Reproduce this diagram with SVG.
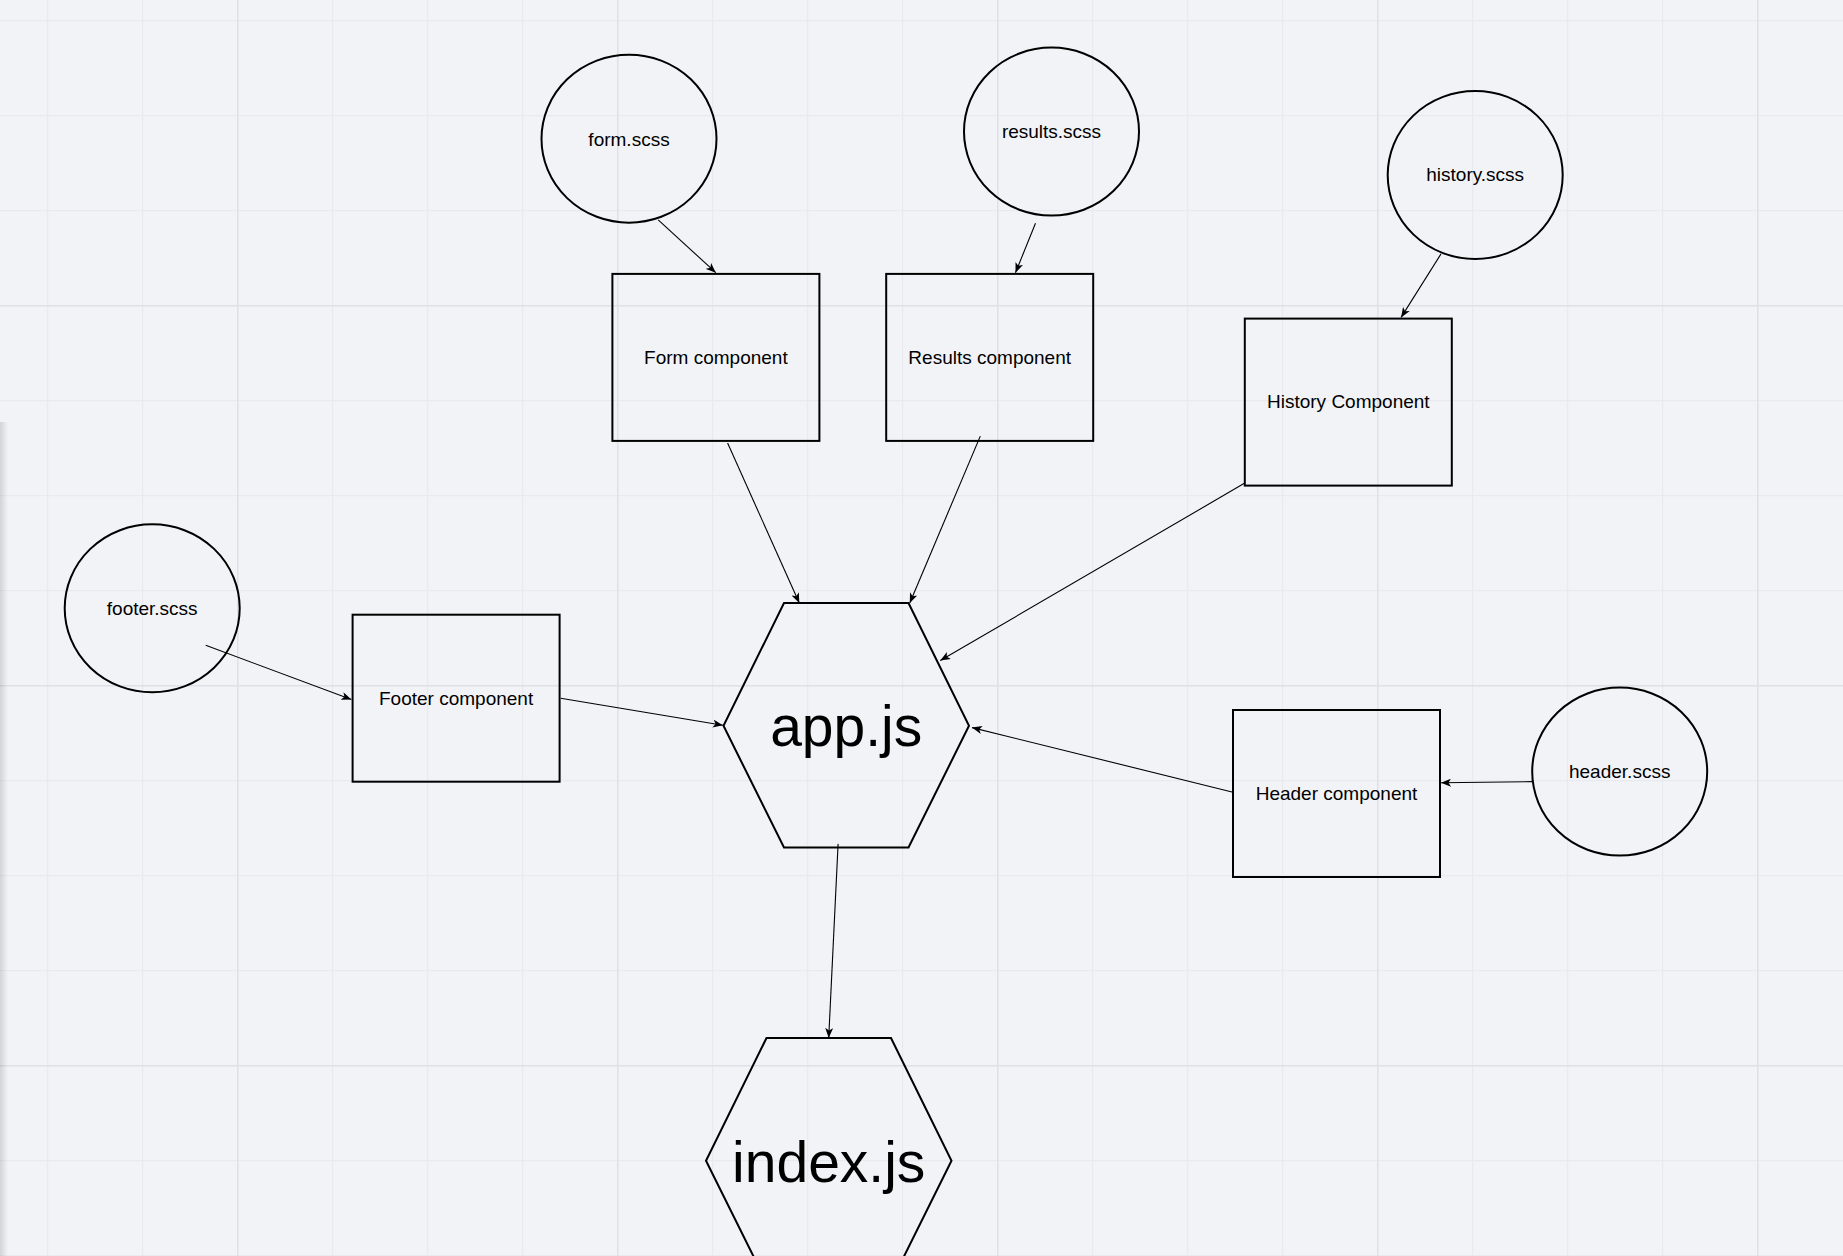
<svg xmlns="http://www.w3.org/2000/svg" width="1843" height="1256" viewBox="0 0 1843 1256">
<style>
.shape{fill:none;stroke:#000;stroke-width:2}
.edge{fill:none;stroke:#000;stroke-width:1.1}
.lbl{font-family:"Liberation Sans",Arial,sans-serif;font-size:19px;fill:#000;text-anchor:middle}
.big{font-family:"Liberation Sans",Arial,sans-serif;font-size:57px;fill:#000;text-anchor:middle}
</style>
<defs>
<pattern id="minor" x="47" y="20" width="95" height="95" patternUnits="userSpaceOnUse">
<path d="M0.5,0 V95 M0,0.5 H95" stroke="#e9eaf0" stroke-width="1.5" fill="none"/>
</pattern>
<pattern id="major" x="237" y="305" width="380" height="380" patternUnits="userSpaceOnUse">
<path d="M0.5,0 V380 M0,0.5 H380" stroke="#dfe0e8" stroke-width="2" fill="none"/>
</pattern>
<linearGradient id="shadow" x1="0" y1="0" x2="1" y2="0">
<stop offset="0" stop-color="#000" stop-opacity="0.13"/>
<stop offset="1" stop-color="#000" stop-opacity="0"/>
</linearGradient>
<marker id="arr" viewBox="0 0 10 8" refX="10" refY="4" markerWidth="10" markerHeight="8" markerUnits="userSpaceOnUse" orient="auto">
<path d="M0,0 L10,4 L0,8 L2.6,4 Z" fill="#000"/>
</marker>
</defs>
<rect width="1843" height="1256" fill="#f2f3f7"/>
<rect width="1843" height="1256" fill="url(#minor)"/>
<rect width="1843" height="1256" fill="url(#major)"/>
<rect x="0" y="422" width="8" height="834" fill="url(#shadow)"/>

<g id="connectors">
<line class="edge" x1="658.2" y1="219.8" x2="715.8" y2="272.7" marker-end="url(#arr)"/>
<line class="edge" x1="1035.5" y1="223.3" x2="1015.5" y2="272.7" marker-end="url(#arr)"/>
<line class="edge" x1="1441" y1="253.9" x2="1401.1" y2="317.4" marker-end="url(#arr)"/>
<line class="edge" x1="205.7" y1="645.3" x2="351.4" y2="699.4" marker-end="url(#arr)"/>
<line class="edge" x1="1532.7" y1="781.6" x2="1441" y2="782.8" marker-end="url(#arr)"/>
<line class="edge" x1="727.6" y1="443.1" x2="799.3" y2="603" marker-end="url(#arr)"/>
<line class="edge" x1="980.3" y1="436.1" x2="909.8" y2="603" marker-end="url(#arr)"/>
<line class="edge" x1="1244.8" y1="483.1" x2="940.3" y2="660.6" marker-end="url(#arr)"/>
<line class="edge" x1="560.7" y1="698.2" x2="722.9" y2="725.2" marker-end="url(#arr)"/>
<line class="edge" x1="1233" y1="792.2" x2="972" y2="727.6" marker-end="url(#arr)"/>
<line class="edge" x1="838.1" y1="843.9" x2="828.7" y2="1037.9" marker-end="url(#arr)"/>
</g>

<g id="form-scss">
<ellipse class="shape" cx="629" cy="138.7" rx="87.5" ry="84"/>
<text class="lbl" x="629" y="145.5">form.scss</text>
</g>
<g id="results-scss">
<ellipse class="shape" cx="1051.5" cy="131.6" rx="87.5" ry="84"/>
<text class="lbl" x="1051.5" y="138.4">results.scss</text>
</g>
<g id="history-scss">
<ellipse class="shape" cx="1475.2" cy="175" rx="87.5" ry="84"/>
<text class="lbl" x="1475.2" y="181.3">history.scss</text>
</g>
<g id="footer-scss">
<ellipse class="shape" cx="152.2" cy="608.3" rx="87.5" ry="84"/>
<text class="lbl" x="152.2" y="614.6">footer.scss</text>
</g>
<g id="header-scss">
<ellipse class="shape" cx="1619.7" cy="771.6" rx="87.5" ry="84"/>
<text class="lbl" x="1619.7" y="777.9">header.scss</text>
</g>

<g id="form-component">
<rect class="shape" x="612.4" y="273.9" width="207" height="167"/>
<text class="lbl" x="715.9" y="363.7">Form component</text>
</g>
<g id="results-component">
<rect class="shape" x="886.2" y="273.9" width="207" height="167"/>
<text class="lbl" x="989.7" y="363.7">Results component</text>
</g>
<g id="history-component">
<rect class="shape" x="1244.8" y="318.6" width="207" height="167"/>
<text class="lbl" x="1348.3" y="408.4">History Component</text>
</g>
<g id="footer-component">
<rect class="shape" x="352.6" y="614.7" width="207" height="167"/>
<text class="lbl" x="456.1" y="704.5">Footer component</text>
</g>
<g id="header-component">
<rect class="shape" x="1233" y="710" width="207" height="167"/>
<text class="lbl" x="1336.5" y="799.8">Header component</text>
</g>

<g id="app-js">
<polygon class="shape" points="784,603 908.5,603 969,725.8 908.5,847.5 784,847.5 723.5,725.8"/>
<text class="big" x="846.2" y="746">app.js</text>
</g>
<g id="index-js">
<polygon class="shape" points="766.5,1038 891,1038 951.5,1160.8 891,1282.5 766.5,1282.5 706,1160.8"/>
<text class="big" x="828.7" y="1181.5">index.js</text>
</g>
</svg>
